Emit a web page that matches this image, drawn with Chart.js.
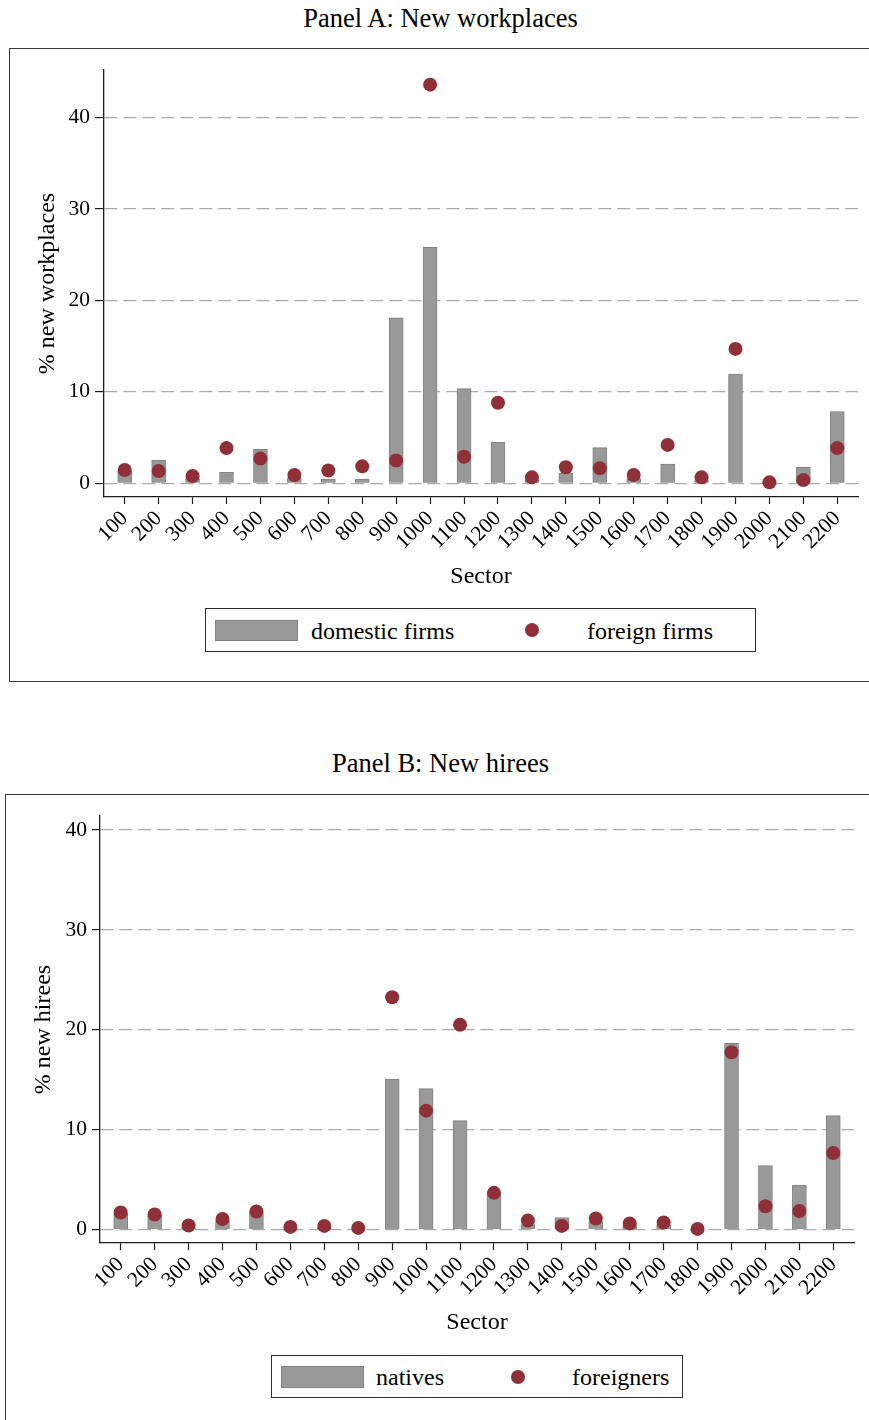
<!DOCTYPE html>
<html>
<head>
<meta charset="utf-8">
<script src="https://cdn.jsdelivr.net/npm/chart.js@4.4.0/dist/chart.umd.min.js"></script>
<style>
  html, body { margin: 0; padding: 0; background: #fff; }
  body { width: 869px; height: 1420px; position: relative; overflow: hidden;
         font-family: "Liberation Serif", "Times New Roman", serif; color: #000; }
  .title { position: absolute; left: 0; width: 881px; text-align: center;
           font-size: 26.5px; line-height: 30px; white-space: nowrap; }
  .frame { position: absolute; border: 1px solid #3a3a3a; box-sizing: border-box; }
  .cv { position: absolute; left: 0; }
  .legend { position: absolute; border: 1px solid #2e2e2e; box-sizing: border-box; background: #fff; }
  .legend .sw { position: absolute; box-sizing: border-box; }
  .legend .dot { position: absolute; width: 14px; height: 14px; border-radius: 50%; }
  .legend span { position: absolute; font-size: 24px; line-height: 28px; white-space: nowrap; }
</style>
</head>
<body>

<div class="title" style="top:3px">Panel A: New workplaces</div>
<div class="frame" style="left:9px; top:48px; width:880px; height:634px"></div>
<canvas id="chartA" class="cv" style="top:48px" width="869" height="560"></canvas>
<div id="legendA" class="legend" style="left:205px; top:608px; width:551px; height:44px"></div>

<div class="title" style="top:748px">Panel B: New hirees</div>
<div class="frame" style="left:5px; top:794px; width:880px; height:700px"></div>
<canvas id="chartB" class="cv" style="top:795px" width="869" height="560"></canvas>
<div id="legendB" class="legend" style="left:271px; top:1355px; width:412px; height:43px"></div>

<script>
// Sector codes along the horizontal axis
const sectors = ['100', '200', '300', '400', '500', '600', '700', '800', '900', '1000', '1100',
                 '1200', '1300', '1400', '1500', '1600', '1700', '1800', '1900', '2000', '2100', '2200'];

// Panel A: share of new workplaces by sector (%)
const workplacesDomestic = [1.3, 2.5, 0.5, 1.2, 3.7, 0.55, 0.45, 0.45, 18.1, 25.8, 10.35,
                            4.5, 0.4, 1.1, 3.9, 0.5, 2.1, 0.3, 11.95, 0, 1.75, 7.85];
const workplacesForeign  = [1.45, 1.35, 0.8, 3.85, 2.7, 0.9, 1.4, 1.85, 2.5, 43.6, 2.9,
                            8.8, 0.65, 1.75, 1.65, 0.9, 4.2, 0.65, 14.7, 0.1, 0.35, 3.85];

// Panel B: share of new hirees by sector (%)
const hireesNatives    = [1.6, 1.4, 0.2, 0.9, 1.7, 0.1, 0.2, 0.1, 15.05, 14.1, 10.9,
                          3.6, 0.5, 1.2, 0.8, 0.4, 0.5, 0, 18.65, 6.4, 4.45, 11.4];
const hireesForeigners = [1.7, 1.5, 0.4, 1.05, 1.8, 0.26, 0.36, 0.16, 23.25, 11.9, 20.5,
                          3.67, 0.9, 0.36, 1.1, 0.6, 0.7, 0.06, 17.75, 2.33, 1.86, 7.65];

// Labelled values on the vertical axis
const yTickValues = [0, 10, 20, 30, 40];

const FONT = '"Liberation Serif", "Times New Roman", serif';
const BAR_FILL = '#999999';
const BAR_EDGE = '#828282';
const DOT_FILL = '#8f2f38';
const GRID = '#aaaaaa';
const AXIS = '#1e1e1e';

function toPoints(values) {
  return values.map((v, i) => ({ x: i, y: v }));
}

function buildPanel(canvasId, cfg) {
  return new Chart(document.getElementById(canvasId), {
    type: 'bar',
    data: {
      datasets: [
        {
          type: 'scatter',
          label: cfg.dotLabel,
          data: toPoints(cfg.dots),
          backgroundColor: DOT_FILL,
          borderWidth: 0,
          pointRadius: 7,
          pointHoverRadius: 7,
          order: 0
        },
        {
          type: 'bar',
          label: cfg.barLabel,
          data: toPoints(cfg.bars),
          backgroundColor: BAR_FILL,
          borderColor: BAR_EDGE,
          borderWidth: 1,
          barThickness: 14,
          order: 1
        }
      ]
    },
    options: {
      responsive: false,
      animation: false,
      events: [],
      layout: { padding: { top: cfg.padTop, right: cfg.padRight, bottom: 0, left: 0 } },
      plugins: { legend: { display: false }, tooltip: { enabled: false } },
      scales: {
        x: {
          type: 'linear',
          offset: false,
          min: -0.61,
          max: sectors.length - 1 + 0.61,
          afterBuildTicks: (s) => { s.ticks = sectors.map((_, i) => ({ value: i })); },
          afterFit: (s) => { s.height = cfg.xHeight; },
          grid: { offset: false, drawOnChartArea: false, drawTicks: true, tickLength: 7,
                  tickColor: AXIS, tickWidth: 1.2 },
          border: { display: true, color: AXIS, width: 1.3 },
          ticks: {
            autoSkip: false, minRotation: 45, maxRotation: 45, padding: 2,
            color: '#000', font: { family: FONT, size: 21.5 },
            callback: (v) => sectors[v]
          },
          title: {
            display: true, text: 'Sector', color: '#000',
            font: { family: FONT, size: 24 },
            padding: { top: 0, bottom: cfg.xTitlePad }
          }
        },
        y: {
          min: cfg.yMin,
          max: cfg.yMax,
          afterBuildTicks: (s) => { s.ticks = yTickValues.map((v) => ({ value: v })); },
          afterFit: (s) => { s.width = cfg.yWidth; },
          grid: { color: GRID, lineWidth: 1.2, drawTicks: true, tickLength: cfg.yTickLen,
                  tickColor: AXIS, tickWidth: 1.2, tickBorderDash: [] },
          border: { display: true, color: AXIS, width: 1.3, dash: [13, 6] },
          ticks: { padding: 5, color: '#000', font: { family: FONT, size: 21.5 } },
          title: {
            display: true, text: cfg.yTitle, color: '#000',
            font: { family: FONT, size: 24 },
            padding: { top: cfg.yTitlePad, bottom: 0 }
          }
        }
      }
    }
  });
}

// Boxed legend below each panel, built from the chart's own datasets
function buildLegend(id, chart, pos) {
  const box = document.getElementById(id);
  const dots = chart.data.datasets[0];
  const bars = chart.data.datasets[1];
  box.innerHTML =
    `<div class="sw" style="left:${pos.sw[0]}px;top:${pos.sw[1]}px;width:83px;height:${pos.sw[2]}px;` +
      `background:${bars.backgroundColor};border:1px solid ${bars.borderColor}"></div>` +
    `<span style="left:${pos.t1[0]}px;top:${pos.t1[1]}px">${bars.label}</span>` +
    `<div class="dot" style="left:${pos.dot[0]}px;top:${pos.dot[1]}px;background:${dots.backgroundColor}"></div>` +
    `<span style="left:${pos.t2[0]}px;top:${pos.t2[1]}px">${dots.label}</span>`;
}

const chartA = buildPanel('chartA', {
  bars: workplacesDomestic, dots: workplacesForeign,
  barLabel: 'domestic firms', dotLabel: 'foreign firms',
  yTitle: '% new workplaces',
  yMin: -1.5, yMax: 45.2,
  padTop: 22, padRight: 11, xHeight: 111, yWidth: 104,
  yTickLen: 9, xTitlePad: 16.6, yTitlePad: 33.6
});

const chartB = buildPanel('chartB', {
  bars: hireesNatives, dots: hireesForeigners,
  barLabel: 'natives', dotLabel: 'foreigners',
  yTitle: '% new hirees',
  yMin: -1.35, yMax: 41.4,
  padTop: 21, padRight: 15, xHeight: 112, yWidth: 100,
  yTickLen: 8, xTitlePad: 17.6, yTitlePad: 29.6
});

buildLegend('legendA', chartA, { sw: [9, 11, 21], t1: [105, 8], dot: [319, 14], t2: [381, 8] });
buildLegend('legendB', chartB, { sw: [9, 10, 22], t1: [104, 7], dot: [239, 14], t2: [300, 7] });
</script>
</body>
</html>
